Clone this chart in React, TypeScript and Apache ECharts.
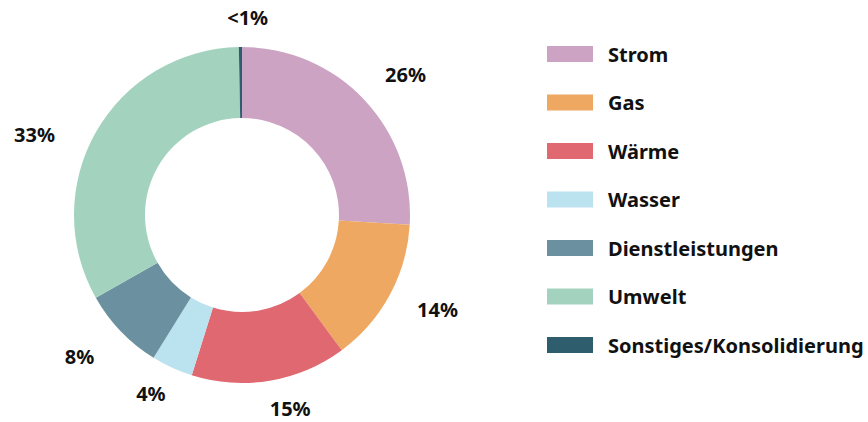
import React, { useEffect, useRef } from "react";
import * as echarts from "echarts";

const categories = ["Strom", "Gas", "Wärme", "Wasser", "Dienstleistungen", "Umwelt", "Sonstiges/Konsolidierung"];
const values = [26, 14, 15, 4, 8, 33, 0.3];
const valueLabels = ["26%", "14%", "15%", "4%", "8%", "33%", "<1%"];
const colors = ["#cda3c3", "#eea862", "#e06871", "#bbe2ef", "#6b909f", "#a3d3be", "#2e5d6e"];
// fine placement tweaks of the outside labels
const labelShift = [0, 0, -7, -11, 0, 10, -33];
const labelDx = [-6, -4, -3, 0, 0, 0, 0];
const labelDy = [-5, 0, -2, -2, 4, 18, 0];

export default function App() {
  const ref = useRef<HTMLDivElement>(null);
  useEffect(() => {
    document.body.style.margin = "0";
    const chart = echarts.init(ref.current!, null, { renderer: "svg" });
    const font = "'Noto Sans', 'Open Sans', sans-serif";
    chart.setOption({
      animation: false,
      color: colors,
      legend: {
        orient: "vertical",
        left: 547,
        top: 44,
        padding: 0,
        itemWidth: 46,
        itemHeight: 16,
        itemGap: 28.5,
        icon: "rect",
        selectedMode: false,
        textStyle: {
          fontFamily: font,
          fontSize: 20,
          fontWeight: "bold",
          color: "#111",
          padding: [0, 0, 0, 10],
        },
        data: categories,
      },
      series: [
        {
          type: "pie",
          center: [242, 215],
          radius: [97, 168],
          startAngle: 90,
          clockwise: true,
          avoidLabelOverlap: false,
          label: {
            show: true,
            position: "outside",
            fontFamily: font,
            fontSize: 20,
            fontWeight: "bold",
            color: "#111",
            formatter: (p: any) => valueLabels[p.dataIndex],
          },
          labelLine: { show: false, length: 30, length2: 0 },
          labelLayout: (p: any) => ({ dx: labelDx[p.dataIndex], dy: labelDy[p.dataIndex] }),
          emphasis: { disabled: true },
          data: categories.map((c, i) => ({
            name: c,
            value: values[i],
            labelLine: { length2: labelShift[i] },
          })),
        },
      ],
    });
    return () => chart.dispose();
  }, []);
  return <div ref={ref} style={{ width: 868, height: 422 }} />;
}
